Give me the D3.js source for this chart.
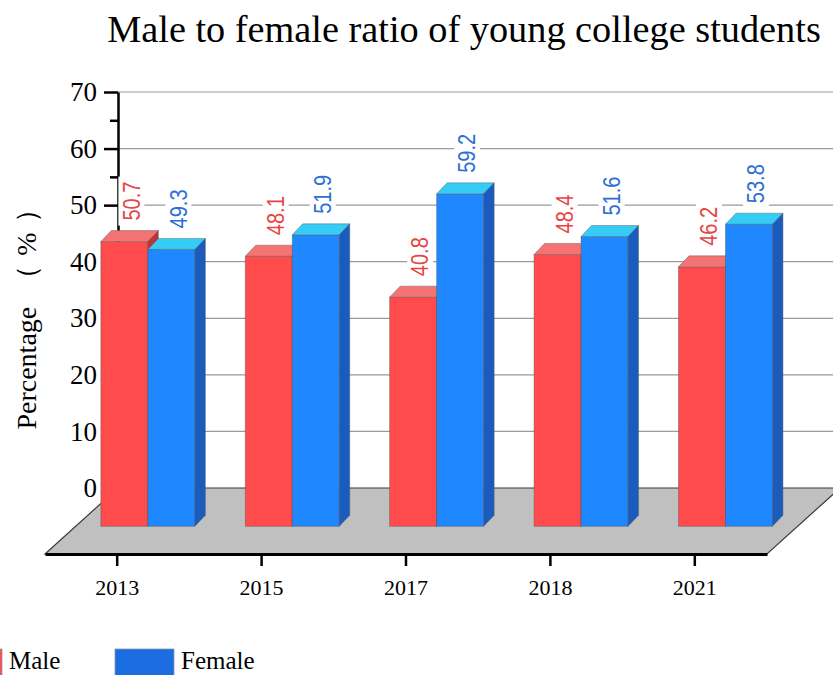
<!DOCTYPE html>
<html>
<head>
<meta charset="utf-8">
<script src="https://cdn.jsdelivr.net/npm/d3@7"></script>
<style>
  html, body { margin: 0; padding: 0; background: #fff; }
  svg { display: block; }
</style>
</head>
<body>
<svg id="chart" width="833" height="675"></svg>
<script>
// ---- data ----
const title = "Male to female ratio of young college students";
const yTitleMain = "Percentage";
const yTitleUnit = "（%）";
const years = ["2013", "2015", "2017", "2018", "2021"];
const seriesNames = ["Male", "Female"];
const maleValues = [50.7, 48.1, 40.8, 48.4, 46.2];
const femaleValues = [49.3, 51.9, 59.2, 51.6, 53.8];
const yTicks = [0, 10, 20, 30, 40, 50, 60, 70];
const yMinorTicks = [5, 15, 25, 35, 45, 55, 65];

// ---- styles ----
const colors = {
  Male:   { front: "#ff4b4b", top: "#f47474", side: "#c23232", label: "#e84444", legend: "#ff4b4b" },
  Female: { front: "#1f87ff", top: "#35cdf6", side: "#1a5cbe", label: "#2b6fd6", legend: "#1c6ddf" }
};
const serif = "'Liberation Serif','Times New Roman',Times,serif";

const svg = d3.select("#chart");

const floorFrontY = 554, floorBackY = 488;
const floorDX = 73, floorDY = floorBackY - floorFrontY;
const frontLeft = 45, frontRight = 767;

const x = d3.scaleBand().domain(years).range([frontLeft, frontRight]);
const y = d3.scaleLinear().domain([0, 70]).range([floorBackY, 92]);
const barFrac = 0.42;
const barOffX = floorDX * barFrac, barOffY = floorDY * barFrac;
const yBar = d3.scaleLinear().domain([0, 70]).range([floorFrontY + barOffY, floorFrontY + barOffY - 70 * 5.615]);
const x1 = d3.scaleBand().domain(seriesNames).range([-47, 47]);
const bdx = 10.5, bdy = -11;

const axisX = frontLeft + floorDX;

// ---- gridlines ----
svg.append("g").selectAll("line").data(yTicks.filter(t => t > 0)).join("line")
  .attr("x1", axisX).attr("x2", 833)
  .attr("y1", d => y(d)).attr("y2", d => y(d))
  .attr("stroke", "#9a9a9a").attr("stroke-width", 1.2);

// ---- floor ----
svg.append("path")
  .attr("d", d3.line()([
    [frontLeft, floorFrontY], [frontLeft + floorDX, floorBackY],
    [frontRight + floorDX, floorBackY], [frontRight, floorFrontY]
  ]) + "Z")
  .attr("fill", "#c0c0c0").attr("stroke", "#3a3a3a").attr("stroke-width", 1.2);

const xAxis = d3.axisBottom(x).tickSize(12).tickSizeOuter(0);
const gx = svg.append("g").attr("transform", `translate(0,${floorFrontY})`).call(xAxis);
gx.select(".domain").attr("stroke", "#000").attr("stroke-width", 3);
gx.selectAll(".tick line").attr("stroke", "#000").attr("stroke-width", 2.5);
gx.selectAll(".tick text").attr("font-family", serif).attr("font-size", 22)
  .attr("fill", "#000").attr("y", 0).attr("dy", "41px");

// ---- y axis ----
const yAxis = d3.axisLeft(y).tickValues(yTicks).tickSize(14).tickSizeOuter(0).tickPadding(7);
const gy = svg.append("g").attr("transform", `translate(${axisX},0)`).call(yAxis);
gy.select(".domain").attr("stroke", "#000").attr("stroke-width", 2.5);
gy.selectAll(".tick line").attr("stroke", "#000").attr("stroke-width", 2.5);
gy.selectAll(".tick text").attr("font-family", serif).attr("font-size", 27).attr("fill", "#000");
gy.selectAll(".tick").filter(d => d === 0).select("line").remove();
svg.append("g").attr("transform", `translate(${axisX},0)`)
  .call(d3.axisLeft(y).tickValues(yMinorTicks).tickSize(8).tickFormat(""))
  .call(g => g.select(".domain").remove())
  .selectAll(".tick line").attr("stroke", "#000").attr("stroke-width", 2.5);

// ---- bars ----
const rows = years.map((yr, i) => ({ year: yr, Male: maleValues[i], Female: femaleValues[i] }));
const barLayer = svg.append("g");
const labelLayer = svg.append("g");
const bw = x1.bandwidth();
const edge = "rgba(90,90,90,0.55)";

rows.forEach(r => {
  const cx = x(r.year) + x.bandwidth() / 2 + barOffX;
  seriesNames.forEach(s => {
    const v = r[s];
    const x0 = cx + x1(s);
    const base = yBar(0), top = yBar(v);
    const c = colors[s];
    const g = barLayer.append("g");
    g.append("rect").attr("x", x0).attr("y", top).attr("width", bw).attr("height", base - top)
      .attr("fill", c.front).attr("stroke", edge).attr("stroke-width", 0.8);
    g.append("path").attr("d", d3.line()([[x0, top], [x0 + bdx, top + bdy], [x0 + bw + bdx, top + bdy], [x0 + bw, top]]) + "Z")
      .attr("fill", c.top).attr("stroke", edge).attr("stroke-width", 0.8);
    g.append("path").attr("d", d3.line()([[x0 + bw, top], [x0 + bw + bdx, top + bdy], [x0 + bw + bdx, base + bdy], [x0 + bw, base]]) + "Z")
      .attr("fill", c.side).attr("stroke", edge).attr("stroke-width", 0.8);

    const lx = x0 + bw / 2 + 7;
    const ly = top + bdy - 10;
    const lg = labelLayer.append("g").attr("transform", `translate(${lx},${ly}) rotate(-90)`);
    const len = 39;
    lg.append("rect").attr("x", -5).attr("y", -13).attr("width", len + 10).attr("height", 26).attr("fill", "#fff");
    lg.append("text").attr("x", 0).attr("y", 0).attr("dy", "0.36em")
      .attr("font-family", "'Liberation Sans Narrow','Arial Narrow','Liberation Sans',Arial,sans-serif")
      .attr("font-size", 23).attr("fill", c.label)
      .attr("textLength", len).attr("lengthAdjust", "spacingAndGlyphs")
      .text(v.toFixed(1));
  });
});

// ---- title ----
svg.append("text").attr("x", 464).attr("y", 42).attr("text-anchor", "middle")
  .attr("font-family", serif).attr("font-size", 38.3).attr("fill", "#000").text(title);

// ---- y title ----
const yt = svg.append("text").attr("transform", "translate(36,308) rotate(-90)").attr("text-anchor", "middle")
  .attr("font-family", serif).attr("font-size", 28).attr("fill", "#000");
yt.append("tspan").text(yTitleMain);
yt.append("tspan").attr("dx", 14).attr("letter-spacing", 9).text(yTitleUnit);

// ---- legend ----
const legendX = [-57, 115];
const legend = svg.append("g");
seriesNames.forEach((s, i) => {
  legend.append("rect").attr("x", legendX[i]).attr("y", 649).attr("width", 59).attr("height", 30)
    .attr("fill", colors[s].legend).attr("stroke", "#8a9ab0").attr("stroke-width", 0.8);
  legend.append("text").attr("x", legendX[i] + 66).attr("y", 669)
    .attr("font-family", serif).attr("font-size", 25).attr("fill", "#000").text(s);
});
</script>
</body>
</html>
